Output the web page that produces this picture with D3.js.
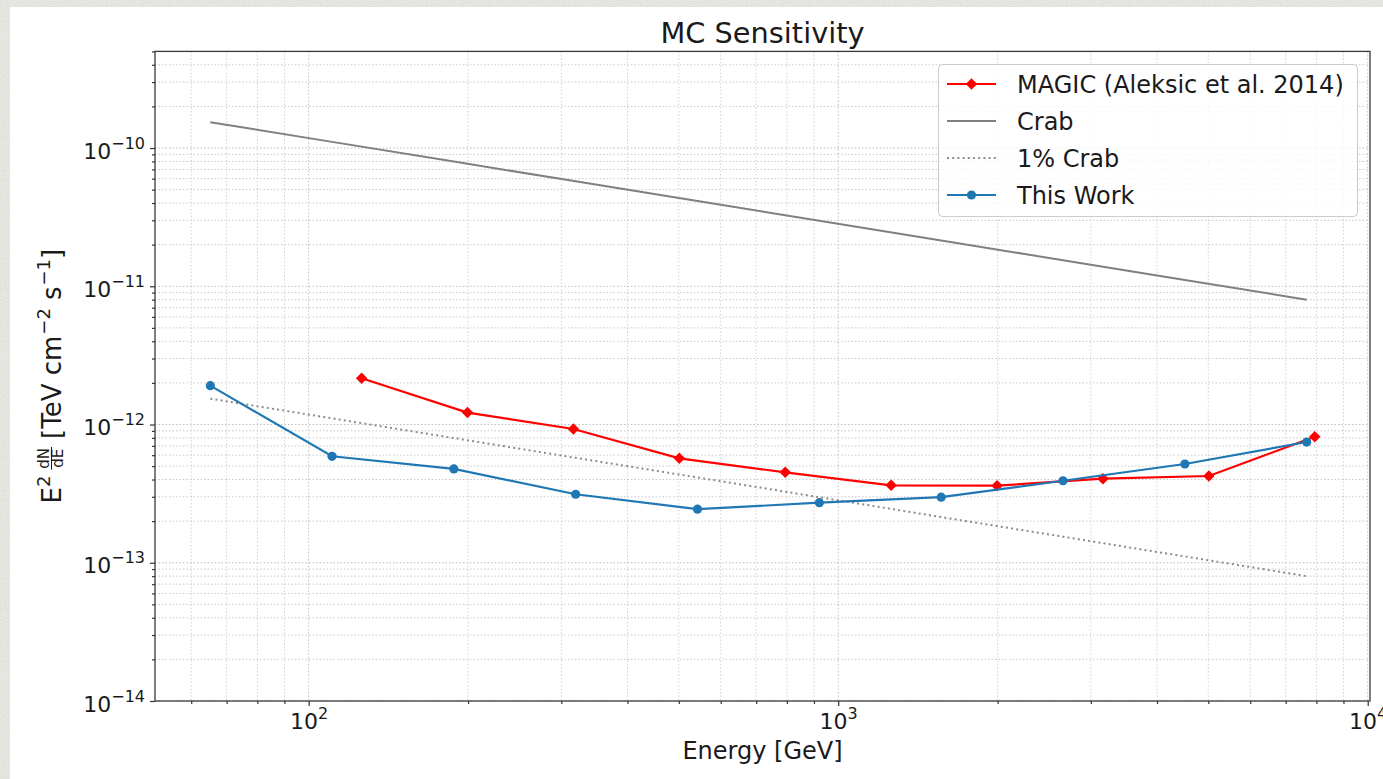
<!DOCTYPE html>
<html><head><meta charset="utf-8">
<script src="https://cdn.jsdelivr.net/npm/d3@7"></script>
<style>
body{margin:0;overflow:hidden;background:#e3e3de;}
svg{display:block;font-family:"DejaVu Sans",sans-serif;}
text{white-space:pre;}
</style>
</head><body><svg id="c" width="1383" height="779"></svg>
<script>
// ---------------- data ----------------
const magicEnergy = [125.9, 199.5, 316.2, 501.2, 794.3, 1258.9, 1995.3, 3162.3, 5011.9, 7943.3];
const magicSens   = [2.16e-12, 1.22e-12, 9.28e-13, 5.69e-13, 4.51e-13, 3.63e-13, 3.61e-13, 4.06e-13, 4.24e-13, 8.16e-13];
const workEnergy  = [65.2, 110.7, 188.0, 319.3, 542.4, 921.3, 1565, 2658, 4515, 7669];
const workSens    = [1.91e-12, 5.89e-13, 4.77e-13, 3.13e-13, 2.44e-13, 2.72e-13, 2.98e-13, 3.92e-13, 5.18e-13, 7.47e-13];
const crabSens    = [1.538e-10, 1.108e-10, 7.98e-11, 5.74e-11, 4.14e-11, 2.98e-11, 2.14e-11, 1.544e-11, 1.111e-11, 8.00e-12];
const crab1Sens   = [1.538e-12, 1.108e-12, 7.98e-13, 5.74e-13, 4.14e-13, 2.98e-13, 2.14e-13, 1.544e-13, 1.111e-13, 8.00e-14];
const xMajorTicks = [100, 1000, 10000];
const xTickExponents = ["2", "3", "4"];
const yMajorTicks = [1e-14, 1e-13, 1e-12, 1e-11, 1e-10];
const yTickExponents = ["\u221214", "\u221213", "\u221212", "\u221211", "\u221210"];
const legendLabels = ["MAGIC (Aleksic et al. 2014)", "Crab", "1% Crab", "This Work"];
const titleText = "MC Sensitivity";
const xLabelText = "Energy [GeV]";

// ---------------- setup ----------------
const W = 1383, H = 779;
const svg = d3.select("#c");
const defs = svg.append("defs");
const flt = defs.append("filter").attr("id", "noise").attr("x", 0).attr("y", 0).attr("width", "100%").attr("height", "100%");
flt.append("feTurbulence").attr("type", "fractalNoise").attr("baseFrequency", 0.8).attr("numOctaves", 2).attr("seed", 4);
flt.append("feColorMatrix").attr("type", "matrix")
  .attr("values", "0 0 0 0 1  0 0 0 0 1  0 0 0 0 1  0.9 0 0 0 -0.35");
svg.append("rect").attr("width", W).attr("height", H).attr("fill", "#e1e1dc");
svg.append("rect").attr("width", W).attr("height", H).attr("filter", "url(#noise)");
svg.append("rect").attr("x", 10).attr("y", 7).attr("width", W - 10).attr("height", H - 7).attr("fill", "#ffffff");

const L = 155, R = 1370, T = 51.4, B = 701;
const x = d3.scaleLog().domain([51.26, 10100]).range([L, R]);
const y = d3.scaleLog().domain([1e-14, 5e-10]).range([B, T]);

// minor tick positions
const xMinor = [];
for (let k = 1; k <= 3; k++) for (let m = 2; m <= 9; m++) { const v = m * Math.pow(10, k); if (v >= 51.26 && v <= 10100) xMinor.push(v); }
const yMinor = [];
for (let k = -14; k <= -10; k++) for (let m = 2; m <= 9; m++) { const v = m * Math.pow(10, k); if (v <= 5.01e-10) yMinor.push(v); }

// ---------------- grid ----------------
const grid = svg.append("g");
grid.selectAll(".gxm").data(xMinor).join("line")
  .attr("x1", d => x(d)).attr("x2", d => x(d)).attr("y1", T).attr("y2", B)
  .attr("stroke", "#d2d2d2").attr("stroke-width", 1).attr("stroke-dasharray", "1.5,2");
grid.selectAll(".gym").data(yMinor).join("line")
  .attr("x1", L).attr("x2", R).attr("y1", d => y(d)).attr("y2", d => y(d))
  .attr("stroke", "#c8c8c8").attr("stroke-width", 1).attr("stroke-dasharray", "1.5,2");
grid.selectAll(".gxM").data(xMajorTicks).join("line")
  .attr("x1", d => x(d)).attr("x2", d => x(d)).attr("y1", T).attr("y2", B)
  .attr("stroke", "#c0c0c0").attr("stroke-width", 1).attr("stroke-dasharray", "1.5,2");
grid.selectAll(".gyM").data(yMajorTicks).join("line")
  .attr("x1", L).attr("x2", R).attr("y1", d => y(d)).attr("y2", d => y(d))
  .attr("stroke", "#bdbdbd").attr("stroke-width", 1).attr("stroke-dasharray", "1.5,2");

// ---------------- series ----------------
const line = d3.line().x(d => x(d[0])).y(d => y(d[1]));
const plot = svg.append("g");
const magicPts = d3.zip(magicEnergy, magicSens);
const workPts = d3.zip(workEnergy, workSens);
plot.append("path").datum(magicPts).attr("d", line).attr("fill", "none").attr("stroke", "#ff0000").attr("stroke-width", 2.2);
plot.selectAll(".md").data(magicPts).join("path")
  .attr("d", d3.symbol(d3.symbolSquare, 66))
  .attr("transform", d => `translate(${x(d[0])},${y(d[1])}) rotate(45)`)
  .attr("fill", "#ff0000");
plot.append("path").datum(d3.zip(workEnergy, crabSens)).attr("d", line).attr("fill", "none").attr("stroke", "#808080").attr("stroke-width", 2);
plot.append("path").datum(d3.zip(workEnergy, crab1Sens)).attr("d", line).attr("fill", "none").attr("stroke", "#8c8c8c").attr("stroke-width", 2).attr("stroke-dasharray", "2,3.2");
plot.append("path").datum(workPts).attr("d", line).attr("fill", "none").attr("stroke", "#1f77b4").attr("stroke-width", 2.2);
plot.selectAll(".wc").data(workPts).join("circle")
  .attr("cx", d => x(d[0])).attr("cy", d => y(d[1])).attr("r", 4.6).attr("fill", "#1f77b4");

// ---------------- axes ----------------
const tickCol = "#333";
function styleAxis(g) {
  g.select(".domain").remove();
  g.selectAll(".tick line").attr("stroke", tickCol).attr("stroke-width", 1.2);
}
const xAxisG = svg.append("g").attr("transform", `translate(0,${B})`)
  .call(d3.axisBottom(x).tickValues(xMinor).tickSize(3).tickFormat(""));
styleAxis(xAxisG);
const xAxisM = svg.append("g").attr("transform", `translate(0,${B})`)
  .call(d3.axisBottom(x).tickValues(xMajorTicks).tickSize(5).tickFormat(() => "10"));
styleAxis(xAxisM);
xAxisM.selectAll(".tick text").each(function (d, i) {
  const t = d3.select(this);
  t.text(null).attr("y", 28).attr("dy", null).attr("fill", "#1a1a1a")
    .attr("font-family", "DejaVu Sans").attr("font-size", 22).attr("text-anchor", "middle");
  t.append("tspan").text("10");
  t.append("tspan").attr("font-size", 16).attr("dy", -10).text(xTickExponents[i]);
});

const yAxisG = svg.append("g").attr("transform", `translate(${L},0)`)
  .call(d3.axisLeft(y).tickValues(yMinor).tickSize(3).tickFormat(""));
styleAxis(yAxisG);
const yAxisM = svg.append("g").attr("transform", `translate(${L},0)`)
  .call(d3.axisLeft(y).tickValues(yMajorTicks).tickSize(5).tickFormat(() => "10"));
styleAxis(yAxisM);
yAxisM.selectAll(".tick text").each(function (d, i) {
  const t = d3.select(this);
  t.text(null).attr("x", -10).attr("y", 10).attr("dy", null).attr("fill", "#1a1a1a")
    .attr("font-family", "DejaVu Sans").attr("font-size", 22).attr("text-anchor", "end");
  t.append("tspan").text("10");
  t.append("tspan").attr("font-size", 16).attr("dy", -10).text(yTickExponents[i]);
});

// spines
svg.append("rect").attr("x", L).attr("y", T).attr("width", R - L).attr("height", B - T)
  .attr("fill", "none").attr("stroke", "#3a3a3a").attr("stroke-width", 1.3);

// ---------------- texts ----------------
svg.append("text").attr("x", (L + R) / 2).attr("y", 43).attr("text-anchor", "middle")
  .attr("font-size", 28.8).attr("fill", "#1a1a1a").text(titleText);
svg.append("text").attr("x", (L + R) / 2).attr("y", 759).attr("text-anchor", "middle")
  .attr("font-size", 24).attr("fill", "#1a1a1a").text(xLabelText);

// y label (math-like)
const yl = svg.append("g").attr("transform", `translate(61,${(T + B) / 2}) rotate(-90)`);
const ylIn = yl.append("g");
let cx = 0;
function piece(txt, size, dy) {
  const t = ylIn.append("text").attr("x", cx).attr("y", dy).attr("font-size", size).attr("fill", "#1a1a1a").text(txt);
  cx += t.node().getComputedTextLength();
  return t;
}
piece("E", 26, 0);
piece("2", 18, -11);
cx += 6;
{
  const num = ylIn.append("text").attr("font-size", 15).attr("fill", "#1a1a1a").attr("y", -12).text("dN");
  const den = ylIn.append("text").attr("font-size", 15).attr("fill", "#1a1a1a").attr("y", 2).text("dE");
  const wn = num.node().getComputedTextLength(), wd = den.node().getComputedTextLength();
  const wf = Math.max(wn, wd) + 2;
  num.attr("x", cx + (wf - wn) / 2);
  den.attr("x", cx + (wf - wd) / 2);
  ylIn.append("line").attr("x1", cx).attr("x2", cx + wf).attr("y1", -9.5).attr("y2", -9.5).attr("stroke", "#1a1a1a").attr("stroke-width", 1);
  cx += wf;
}
cx += 8;
piece("[TeV cm", 26, 0);
cx += 1;
piece("\u22122", 18, -11);
cx += 8;
piece("s", 26, 0);
cx += 1;
piece("\u22121", 18, -11);
piece("]", 26, 0);
ylIn.attr("transform", `translate(${-cx / 2},0)`);

// ---------------- legend ----------------
const lg = svg.append("g");
lg.append("rect").attr("x", 938.5).attr("y", 64.5).attr("width", 419).attr("height", 152).attr("rx", 4)
  .attr("fill", "#ffffff").attr("fill-opacity", 0.8).attr("stroke", "#cccccc").attr("stroke-width", 1);
const rowsY = [84, 121, 158, 195];
const hx1 = 947, hx2 = 996, hm = 971.5;
// MAGIC
lg.append("line").attr("x1", hx1).attr("x2", hx2).attr("y1", rowsY[0]).attr("y2", rowsY[0]).attr("stroke", "#ff0000").attr("stroke-width", 2.2);
lg.append("path").attr("d", d3.symbol(d3.symbolSquare, 66)).attr("transform", `translate(${hm},${rowsY[0]}) rotate(45)`).attr("fill", "#ff0000");
// Crab
lg.append("line").attr("x1", hx1).attr("x2", hx2).attr("y1", rowsY[1]).attr("y2", rowsY[1]).attr("stroke", "#808080").attr("stroke-width", 2);
// 1% Crab
lg.append("line").attr("x1", hx1).attr("x2", hx2).attr("y1", rowsY[2]).attr("y2", rowsY[2]).attr("stroke", "#8c8c8c").attr("stroke-width", 2).attr("stroke-dasharray", "2,3.2");
// This Work
lg.append("line").attr("x1", hx1).attr("x2", hx2).attr("y1", rowsY[3]).attr("y2", rowsY[3]).attr("stroke", "#1f77b4").attr("stroke-width", 2.2);
lg.append("circle").attr("cx", hm).attr("cy", rowsY[3]).attr("r", 4.6).attr("fill", "#1f77b4");
lg.selectAll(".lt").data(legendLabels).join("text")
  .attr("x", 1017).attr("y", (d, i) => rowsY[i] + 9).attr("font-size", 24).attr("fill", "#1a1a1a").text(d => d);
</script>
</body></html>
